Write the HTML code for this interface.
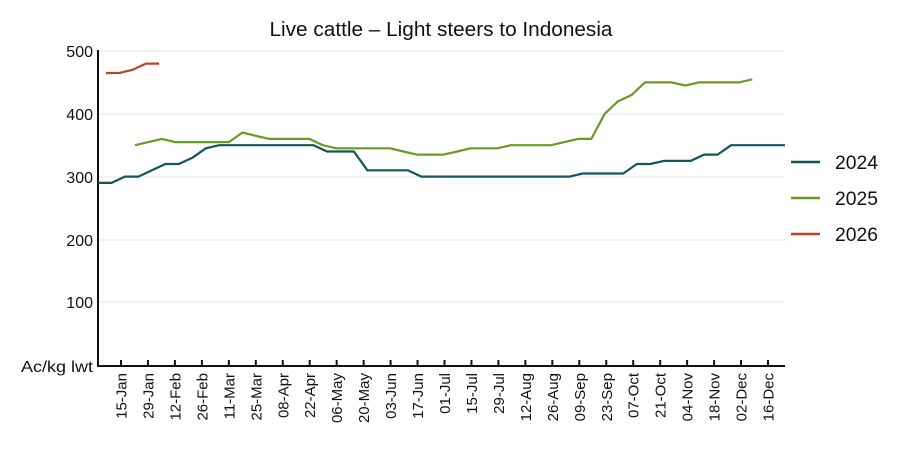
<!DOCTYPE html>
<html><head><meta charset="utf-8"><style>
html,body{margin:0;padding:0;background:#fff;}
svg{display:block;font-family:"Liberation Sans",sans-serif;}
</style></head><body>
<svg id="c" width="900" height="450" viewBox="0 0 900 450">
<text x="441" y="36" font-size="20" text-anchor="middle" fill="#111" textLength="343" lengthAdjust="spacingAndGlyphs">Live cattle – Light steers to Indonesia</text>
<g stroke="#eeeeee" stroke-width="1.5">
<line x1="98" x2="785" y1="51" y2="51"/><line x1="98" x2="785" y1="114" y2="114"/>
<line x1="98" x2="785" y1="177" y2="177"/><line x1="98" x2="785" y1="240" y2="240"/>
<line x1="98" x2="785" y1="302" y2="302"/>
</g>
<g font-size="16" fill="#111" text-anchor="end">
<text x="93" y="57">500</text><text x="93" y="120">400</text><text x="93" y="183">300</text>
<text x="93" y="246">200</text><text x="93" y="308">100</text><text x="93" y="372" textLength="72" lengthAdjust="spacingAndGlyphs">Ac/kg lwt</text>
</g>
<g stroke="#111" stroke-width="2" id="ax">
<line x1="98" y1="50" x2="98" y2="366"/><line x1="97" y1="366" x2="785" y2="366"/>
</g>
<g id="xl" font-size="15" fill="#111"></g>
<g fill="none" stroke-width="2.2" stroke-linejoin="round">
<polyline id="s24" stroke="#12565a"/>
<polyline id="s25" stroke="#6b9a22"/>
<polyline id="s26" stroke="#b5462a"/>
</g>
<g stroke-width="2.5">
<line x1="791" x2="820" y1="162" y2="162" stroke="#12565a"/>
<line x1="791" x2="820" y1="198" y2="198" stroke="#6b9a22"/>
<line x1="791" x2="820" y1="234" y2="234" stroke="#b5462a"/>
</g>
<g font-size="19" fill="#111">
<text x="835" y="169" textLength="43" lengthAdjust="spacingAndGlyphs">2024</text><text x="835" y="205" textLength="43" lengthAdjust="spacingAndGlyphs">2025</text><text x="835" y="241" textLength="43" lengthAdjust="spacingAndGlyphs">2026</text>
</g>
</svg>
<script>
var Y=function(v){return 365-v*0.628;};
var d24=[290,290,300,300,310,320,320,330,345,350,350,350,350,350,350,350,350,340,340,340,310,310,310,310,300,300,300,300,300,300,300,300,300,300,300,300,305,305,305,305,320,320,325,325,325,335,335,350,350,350,350,350];
var d25=[350,355,360,355,355,355,355,355,370,365,360,360,360,360,350,345,345,345,345,345,340,335,335,335,340,345,345,345,350,350,350,350,355,360,360,400,420,430,450,450,450,445,450,450,450,450,455];
var d26=[465,465,470,480,480];
function pts(a,x0,st){return a.map(function(v,i){return (x0+i*st).toFixed(1)+","+Y(v).toFixed(1);}).join(" ");}
document.getElementById("s24").setAttribute("points",pts(d24,98,13.47));
document.getElementById("s25").setAttribute("points",pts(d25,135,13.42));
document.getElementById("s26").setAttribute("points",pts(d26,106,13.3));
var labs=["15-Jan","29-Jan","12-Feb","26-Feb","11-Mar","25-Mar","08-Apr","22-Apr","06-May","20-May","03-Jun","17-Jun","01-Jul","15-Jul","29-Jul","12-Aug","26-Aug","09-Sep","23-Sep","07-Oct","21-Oct","04-Nov","18-Nov","02-Dec","16-Dec"];
var ns="http://www.w3.org/2000/svg",ax=document.getElementById("ax"),xl=document.getElementById("xl");
labs.forEach(function(l,i){var x=121+i*26.96;
x=121+i*(647/24);
var t=document.createElementNS(ns,"line");t.setAttribute("x1",x);t.setAttribute("x2",x);t.setAttribute("y1",366);t.setAttribute("y2",360);ax.appendChild(t);
var tx=document.createElementNS(ns,"text");tx.setAttribute("transform","translate("+(x+5.5)+",373) rotate(-90)");tx.setAttribute("text-anchor","end");tx.textContent=l;xl.appendChild(tx);});
</script>
</body></html>
